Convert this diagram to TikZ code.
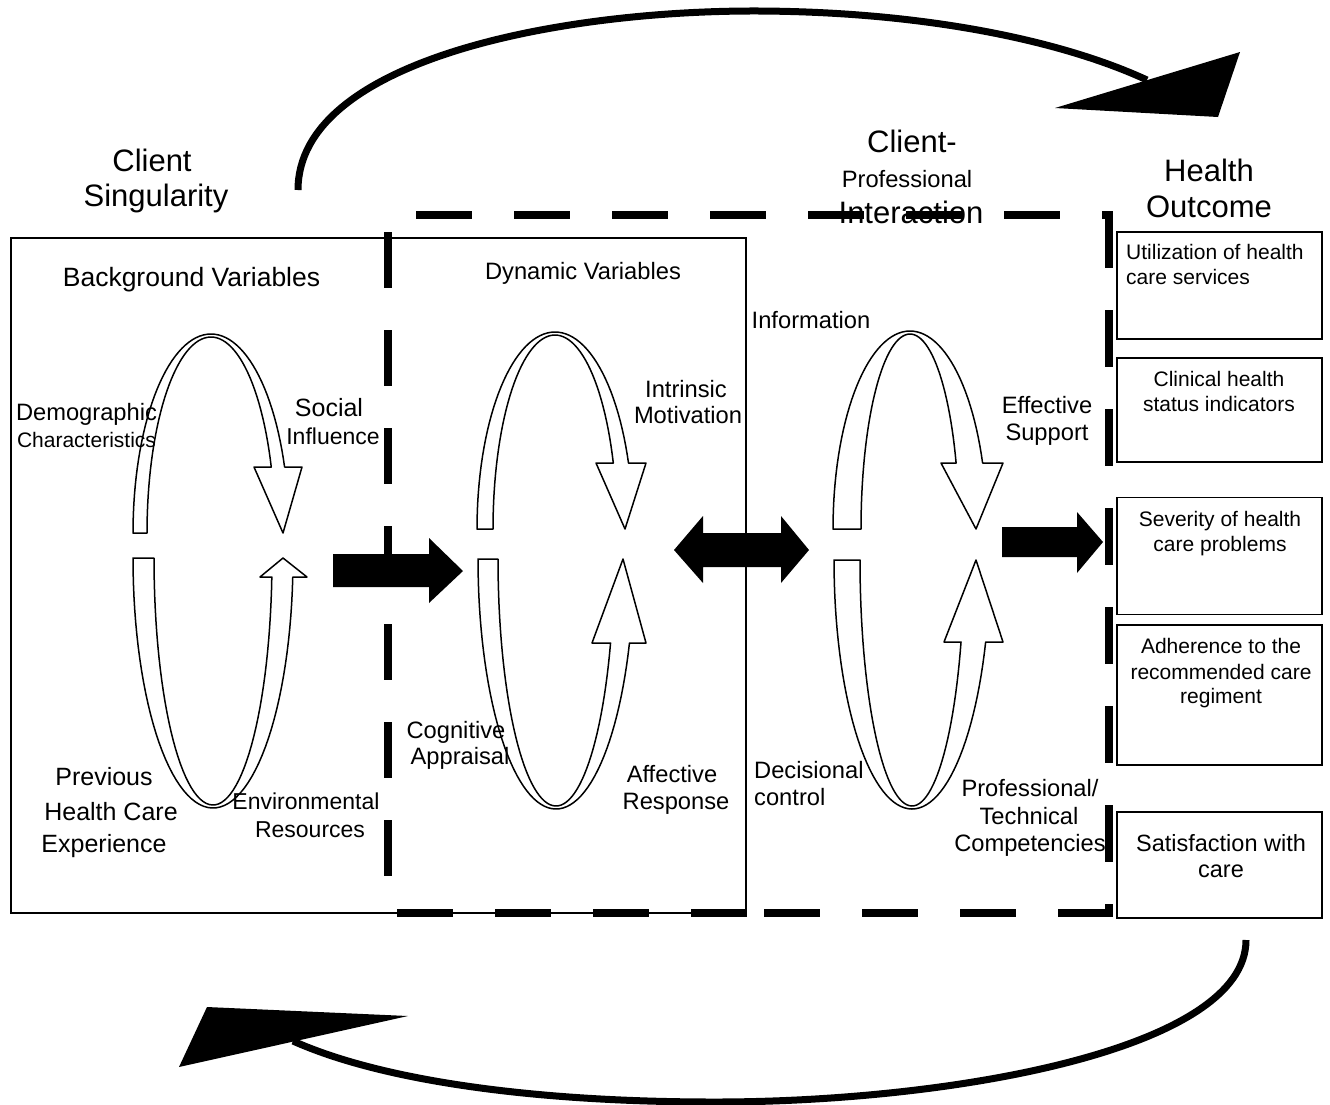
\documentclass[tikz,border=0pt]{standalone}
\usepackage{fontspec}
\setmainfont{Liberation Sans}
\newcommand{\FSz}[1]{\fontsize{#1}{#1}\selectfont}
% upper band: #1 cx #2 cy #3 rx outer #4 ry outer #5 rx inner #6 y of head base #7 head left #8 head right #9 tip x
\newcommand{\UpBand}[9]{%
  \draw[band] plot[domain=180:{360+asin((#6-#2)/#4)}] ({#1+#3*cos(\x)},{#2+#4*sin(\x)})
    -- (#8,#6) -- (#9,#2) -- (#7,#6)
    -- plot[domain={360+asin((#6-#2)/(#4-3))}:180] ({#1+#5*cos(\x)},{#2+(#4-3)*sin(\x)}) -- cycle;}
\newcommand{\LowBand}[9]{%
  \draw[band] plot[domain=180:{asin((#6-#2)/#4)}] ({#1+#3*cos(\x)},{#2+#4*sin(\x)})
    -- (#8,#6) -- (#9,#2) -- (#7,#6)
    -- plot[domain={asin((#6-#2)/(#4-3))}:180] ({#1+#5*cos(\x)},{#2+(#4-3)*sin(\x)}) -- cycle;}
\begin{document}
\begin{tikzpicture}[x=1pt,y=-1pt,
  band/.style={draw=black,fill=white,line width=1.5pt,line join=round,samples=60,variable=\x},
  dashline/.style={line width=8pt,dash pattern=on 56pt off 42pt,line cap=butt},
  blockarrow/.style={fill=black,draw=none},
  thickarc/.style={line width=7pt},
  obox/.style={draw=black,line width=1.5pt,fill=white,inner sep=0pt},
  lab/.style={inner sep=0pt,anchor=base},
  labw/.style={inner sep=0pt,anchor=base west},
  title/.style={lab,font=\FSz{31}},
  med/.style={lab,font=\FSz{23.7}},
  boxt/.style={lab,font=\FSz{21}}]
\fill[white] (0,0) rectangle (1330,1104);
\useasboundingbox (0,0) rectangle (1330,1104);

% solid box of client singularity
\draw[line width=1.5pt] (11,238) rectangle (746,913);

% outcome boxes
\node[obox,minimum width=205pt,minimum height=107pt] (o1) at (1219.5,285.5) {};
\node[obox,minimum width=205pt,minimum height=104pt] (o2) at (1219.5,410) {};
\node[obox,minimum width=205pt,minimum height=117pt] (o3) at (1219.5,556) {};
\node[obox,minimum width=205pt,minimum height=140pt] (o4) at (1219.5,695) {};
\node[obox,minimum width=205pt,minimum height=106pt] (o5) at (1219.5,865) {};

% dashed client-professional interaction frame
\draw[dashline] (416,215) -- (1113,215);
\draw[dashline] (388,232) -- (388,880);
\draw[dashline] (397,913) -- (750,913);
\draw[dashline] (764,913) -- (1113,913);
\draw[dashline,dash pattern=on 57pt off 42pt] (1109,211) -- (1109,913);

% cycles
\UpBand{211}{533}{78}{199}{64}{467}{254}{302}{283}
\LowBand{213}{558}{80}{250}{59}{577}{260}{307}{283}
\UpBand{555}{529}{78}{197}{62}{463}{596}{646}{625}
\LowBand{556}{559}{78}{250}{58}{643}{592}{646}{623}
\UpBand{910}{529}{77}{198}{49}{463}{941}{1003}{976}
\LowBand{912}{560}{78}{249}{52}{642}{944}{1003}{976}

% block arrows
\fill[blockarrow] (333,554) -- (429,554) -- (429,538) -- (463,571) -- (429,603) -- (429,587) -- (333,587) -- cycle;
\fill[blockarrow] (674,550) -- (703,516) -- (703,533) -- (781,533) -- (781,516) -- (809,550) -- (781,583) -- (781,567) -- (703,567) -- (703,583) -- cycle;
\fill[blockarrow] (1002,527) -- (1077,527) -- (1077,512) -- (1103,542) -- (1077,573) -- (1077,557) -- (1002,557) -- cycle;

% feedback arcs
\coordinate (tA) at (298,190);
\coordinate (tB) at (1147,80);
\draw[thickarc] (tA) .. controls (298,60) and (560,10) .. (760,11) .. controls (930,12) and (1065,42) .. (tB);
\fill (1055,108) -- (1240,52) -- (1218,117) -- cycle;
\coordinate (bA) at (1246,940);
\coordinate (bB) at (293,1041);
\draw[thickarc] (bA) .. controls (1246,1050) and (950,1102) .. (715,1102) .. controls (530,1102) and (380,1080) .. (bB);
\fill (207,1007) -- (408,1016) -- (179,1067) -- cycle;

% titles
\node[title] (t1a) at (152,171) {Client};
\node[title] (t1b) at (156,206) {Singularity};
\node[title] (t2a) at (912,152) {Client-};
\node[med]   (t2b) at (907,187) {Professional};
\node[title] (t2c) at (911,223) {Interaction};
\node[title] (t3a) at (1209,181) {Health};
\node[title] (t3b) at (1209,217) {Outcome};

% labels, first block
\node[lab,font=\FSz{26.5}] (bg) at (191.5,286) {Background Variables};
\node[med] (dem1) at (86.5,420) {Demographic};
\node[lab,font=\FSz{21}] (dem2) at (86.5,447) {Characteristics};
\node[lab,font=\FSz{25}] (soc1) at (329,416) {Social};
\node[lab,font=\FSz{23}] (soc2) at (333,444) {Influence};
\node[lab,font=\FSz{25}] (prev1) at (104,785) {Previous};
\node[lab,font=\FSz{25}] (prev2) at (111,820) {Health Care};
\node[lab,font=\FSz{25}] (prev3) at (104,852) {Experience};
\node[lab,font=\FSz{23}] (env1) at (306,809) {Environmental};
\node[lab,font=\FSz{23}] (env2) at (310,837) {Resources};

% labels, second block
\node[med] (dyn) at (583,279) {Dynamic Variables};
\node[med] (int1) at (686,397) {Intrinsic};
\node[med] (int2) at (688,423) {Motivation};
\node[med] (cog1) at (456,738) {Cognitive};
\node[med] (cog2) at (460,764) {Appraisal};
\node[med] (aff1) at (672,782) {Affective};
\node[med] (aff2) at (676,809) {Response};

% labels, third block
\node[med] (inf) at (811,328) {Information};
\node[med] (eff1) at (1047,413) {Effective};
\node[med] (eff2) at (1047,440) {Support};
\node[labw,font=\FSz{23.7}] (dec1) at (754,778) {Decisional};
\node[labw,font=\FSz{23.7}] (dec2) at (754,805) {control};
\node[med] (pro1) at (1030,796) {Professional/};
\node[med] (pro2) at (1029,824) {Technical};
\node[med] (pro3) at (1030,851) {Competencies};

% outcome texts
\node[labw,font=\FSz{21}] (o1a) at (1126,259) {Utilization of health};
\node[labw,font=\FSz{21}] (o1b) at (1126,284) {care services};
\node[boxt] (o2a) at (1219,386) {Clinical health};
\node[boxt] (o2b) at (1219,411) {status indicators};
\node[boxt] (o3a) at (1220,526) {Severity of health};
\node[boxt] (o3b) at (1220,551) {care problems};
\node[boxt] (o4a) at (1221,653) {Adherence to the};
\node[boxt] (o4b) at (1221,679) {recommended care};
\node[boxt] (o4c) at (1221,703) {regiment};
\node[lab,font=\FSz{23.5}] (o5a) at (1221,851) {Satisfaction with};
\node[lab,font=\FSz{23.5}] (o5b) at (1221,877) {care};
\end{tikzpicture}
\end{document}
